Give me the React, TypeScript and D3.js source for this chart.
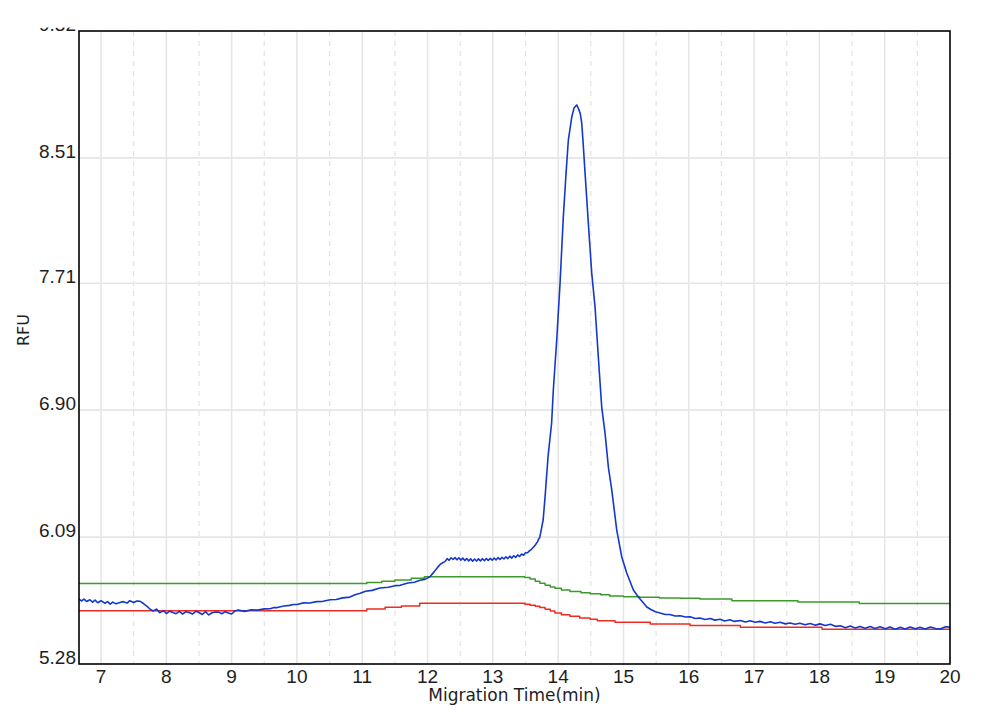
import React from "react";
import * as d3 from "d3";

// ---- data ----
const xTicks = [7, 8, 9, 10, 11, 12, 13, 14, 15, 16, 17, 18, 19, 20];
const xHalfTicks = [7.5, 8.5, 9.5, 10.5, 11.5, 12.5, 13.5, 14.5, 15.5, 16.5, 17.5, 18.5, 19.5];
const yTicks = [5.28, 6.09, 6.9, 7.71, 8.51, 9.32];
const yTickLabels = ["5.28", "6.09", "6.90", "7.71", "8.51", "9.32"];

const blueT = [
  6.663, 6.70, 6.74, 6.78, 6.83, 6.87, 6.91, 6.95, 7.00, 7.06, 7.10, 7.14, 7.18, 7.23, 7.29, 7.34, 7.40, 7.44, 7.50, 7.55,
  7.60, 7.65, 7.70, 7.75, 7.80, 7.85, 7.90, 7.96, 8.00, 8.05, 8.10, 8.15, 8.20, 8.25, 8.30, 8.35, 8.40, 8.45, 8.50, 8.55,
  8.60, 8.65, 8.70, 8.75, 8.80, 8.85, 8.90, 8.95, 9.00, 9.05, 9.10, 9.20, 9.30, 9.40, 9.50, 9.59, 9.65, 9.70, 9.80, 9.89,
  9.95, 10.00, 10.10, 10.20, 10.30, 10.40, 10.51, 10.60, 10.70, 10.81, 10.90, 10.97, 11.05, 11.15, 11.27, 11.40, 11.50, 11.58, 11.70, 11.80,
  11.885, 11.96, 12.04, 12.10, 12.15, 12.20, 12.27, 12.30, 12.33, 12.36, 12.39, 12.42, 12.45, 12.48, 12.51, 12.54, 12.57, 12.60, 12.63, 12.66,
  12.69, 12.72, 12.75, 12.78, 12.81, 12.84, 12.87, 12.90, 12.93, 12.96, 12.99, 13.02, 13.05, 13.08, 13.11, 13.14, 13.17, 13.20, 13.23, 13.26,
  13.29, 13.32, 13.35, 13.38, 13.41, 13.44, 13.47, 13.50, 13.53, 13.56, 13.59, 13.62, 13.65, 13.68, 13.70, 13.72, 13.74, 13.77, 13.80, 13.845,
  13.90, 13.926, 13.978, 14.029, 14.079, 14.121, 14.156, 14.208, 14.243, 14.27, 14.285, 14.30, 14.32, 14.34, 14.361, 14.38, 14.412, 14.462, 14.514, 14.565,
  14.615, 14.667, 14.718, 14.769, 14.821, 14.897, 14.974, 15.05, 15.152, 15.228, 15.30, 15.357, 15.42, 15.49, 15.56, 15.64, 15.71, 15.79, 15.87, 15.95,
  16.02, 16.10, 16.17, 16.25, 16.33, 16.40, 16.48, 16.55, 16.63, 16.70, 16.79, 16.87, 16.94, 17.02, 17.09, 17.17, 17.25, 17.32, 17.40, 17.48,
  17.55, 17.63, 17.70, 17.78, 17.86, 17.94, 18.01, 18.09, 18.17, 18.25, 18.32, 18.40, 18.47, 18.55, 18.62, 18.70, 18.78, 18.85, 18.93, 19.01,
  19.08, 19.16, 19.24, 19.31, 19.39, 19.47, 19.54, 19.62, 19.70, 19.78, 19.85, 19.93, 20.0,
];
const blueV = [
  5.695, 5.682, 5.694, 5.679, 5.690, 5.675, 5.688, 5.671, 5.684, 5.668, 5.678, 5.662, 5.675, 5.664, 5.672, 5.678, 5.669, 5.684, 5.672, 5.682,
  5.680, 5.666, 5.650, 5.630, 5.618, 5.630, 5.608, 5.620, 5.602, 5.617, 5.609, 5.601, 5.616, 5.599, 5.614, 5.609, 5.599, 5.616, 5.609, 5.596,
  5.614, 5.593, 5.607, 5.612, 5.611, 5.601, 5.614, 5.605, 5.599, 5.618, 5.624, 5.616, 5.626, 5.624, 5.632, 5.633, 5.640, 5.640, 5.650, 5.654,
  5.660, 5.660, 5.670, 5.669, 5.678, 5.680, 5.690, 5.692, 5.702, 5.707, 5.724, 5.731, 5.744, 5.750, 5.765, 5.770, 5.780, 5.782, 5.797, 5.802,
  5.814, 5.820, 5.838, 5.868, 5.895, 5.918, 5.935, 5.952, 5.942, 5.958, 5.947, 5.959, 5.945, 5.958, 5.943, 5.956, 5.940, 5.953, 5.938, 5.951,
  5.936, 5.950, 5.937, 5.951, 5.938, 5.952, 5.940, 5.953, 5.941, 5.954, 5.942, 5.956, 5.944, 5.959, 5.947, 5.961, 5.950, 5.964, 5.953, 5.968,
  5.956, 5.971, 5.960, 5.976, 5.966, 5.982, 5.974, 5.990, 5.990, 6.002, 6.012, 6.025, 6.040, 6.058, 6.075, 6.092, 6.135, 6.199, 6.348, 6.603,
  6.818, 7.029, 7.348, 7.711, 8.133, 8.413, 8.624, 8.771, 8.828, 8.842, 8.848, 8.835, 8.815, 8.790, 8.732, 8.620, 8.413, 8.094, 7.775, 7.558,
  7.239, 6.920, 6.754, 6.537, 6.390, 6.135, 5.963, 5.861, 5.752, 5.708, 5.672, 5.644, 5.628, 5.614, 5.605, 5.596, 5.596, 5.586, 5.588, 5.580,
  5.582, 5.570, 5.574, 5.564, 5.570, 5.560, 5.566, 5.554, 5.562, 5.552, 5.558, 5.548, 5.556, 5.546, 5.552, 5.542, 5.550, 5.540, 5.546, 5.536,
  5.542, 5.534, 5.540, 5.530, 5.538, 5.528, 5.536, 5.526, 5.534, 5.520, 5.524, 5.512, 5.522, 5.510, 5.520, 5.508, 5.519, 5.507, 5.518, 5.505,
  5.516, 5.502, 5.514, 5.504, 5.516, 5.505, 5.515, 5.504, 5.516, 5.507, 5.504, 5.518, 5.515,
];

const greenT = [6.663, 11.07, 11.30, 11.50, 11.75, 11.95, 13.49, 13.57, 13.65, 13.72, 13.80, 13.88, 13.95, 14.05, 14.18, 14.35, 14.49, 14.65, 14.79, 15.00, 15.25, 15.55, 15.87, 16.17, 16.66, 17.67, 18.61, 20.0];
const greenV = [5.794, 5.800, 5.808, 5.816, 5.827, 5.837, 5.832, 5.822, 5.808, 5.795, 5.783, 5.772, 5.763, 5.752, 5.742, 5.735, 5.729, 5.722, 5.714, 5.710, 5.706, 5.702, 5.699, 5.695, 5.684, 5.675, 5.666, 5.666];

const redT = [6.663, 11.07, 11.35, 11.60, 11.88, 13.49, 13.57, 13.65, 13.72, 13.80, 13.88, 13.95, 14.05, 14.18, 14.33, 14.49, 14.60, 14.87, 15.41, 16.02, 16.79, 18.04, 20.0];
const redV = [5.620, 5.631, 5.642, 5.650, 5.667, 5.662, 5.655, 5.648, 5.640, 5.630, 5.618, 5.605, 5.595, 5.584, 5.574, 5.566, 5.556, 5.546, 5.536, 5.526, 5.514, 5.502, 5.502];

// ---- layout ----
const W = 1008;
const H = 722;
const L = 79, R = 950, T = 31, B = 664;

export default function App() {
  const x = d3.scaleLinear().domain([6.663, 20]).range([L, R]);
  const y = d3.scaleLinear().domain([5.28, 9.32]).range([B, T]);

  const lineLin = d3.line<[number, number]>().x((d) => x(d[0])).y((d) => y(d[1]));
  const lineStep = d3.line<[number, number]>().x((d) => x(d[0])).y((d) => y(d[1])).curve(d3.curveStepAfter);

  const blue = blueT.map((t, i) => [t, blueV[i]] as [number, number]);
  const green = greenT.map((t, i) => [t, greenV[i]] as [number, number]);
  const red = redT.map((t, i) => [t, redV[i]] as [number, number]);

  const tickFont = "'Liberation Sans', Arial, sans-serif";
  const titleFont = "'DejaVu Sans', Verdana, sans-serif";

  return (
    <svg
      width={W}
      height={H}
      style={{ position: "absolute", left: 0, top: 0, background: "#fff" }}
    >
      <defs>
        <clipPath id="plotClip">
          <rect x={L} y={T} width={R - L} height={B - T} />
        </clipPath>
        <clipPath id="ylabClip">
          <rect x={0} y={27.5} width={L} height={H} />
        </clipPath>
      </defs>
      <rect x={0} y={0} width={W} height={H} fill="#fff" />

      {/* grid */}
      <g>
        {xHalfTicks.map((t) => (
          <line key={"h" + t} x1={x(t)} x2={x(t)} y1={T} y2={B} stroke="#e3e3e3" strokeWidth={1.2} strokeDasharray="5,5" />
        ))}
        {xTicks.filter((t) => t < 20).map((t) => (
          <line key={"v" + t} x1={x(t)} x2={x(t)} y1={T} y2={B} stroke="#e6e6e6" strokeWidth={1.6} />
        ))}
        {yTicks.slice(1, -1).map((v) => (
          <line key={"y" + v} x1={L} x2={R} y1={y(v)} y2={y(v)} stroke="#e6e6e6" strokeWidth={1.6} />
        ))}
      </g>

      {/* series */}
      <g clipPath="url(#plotClip)" fill="none" strokeLinejoin="round">
        <path d={lineStep(green) || ""} stroke="#3c9a2c" strokeWidth={1.5} />
        <path d={lineStep(red) || ""} stroke="#ee2b22" strokeWidth={1.5} />
        <path d={lineLin(blue) || ""} stroke="#1538cc" strokeWidth={1.6} />
      </g>

      {/* frame */}
      <rect x={L} y={T} width={R - L} height={B - T} fill="none" stroke="#000" strokeWidth={1.6} />

      {/* y tick labels */}
      <g clipPath="url(#ylabClip)" fontFamily={tickFont} fontSize={19} fill="#1e1e1e">
        {yTicks.map((v, i) => (
          <text key={"yl" + v} x={L - 3} y={y(v)} textAnchor="end">
            {yTickLabels[i]}
          </text>
        ))}
      </g>

      {/* x tick labels */}
      <g fontFamily={tickFont} fontSize={19} fill="#1e1e1e">
        {xTicks.map((t) => (
          <text key={"xl" + t} x={x(t)} y={B + 19} textAnchor="middle">
            {t}
          </text>
        ))}
      </g>

      {/* axis titles */}
      <text x={(L + R) / 2} y={701} textAnchor="middle" fontFamily={titleFont} fontSize={17} fill="#1e1e1e">
        Migration Time(min)
      </text>
      <text
        transform={`translate(29, 330) rotate(-90)`}
        textAnchor="middle"
        fontFamily={titleFont}
        fontSize={16}
        fill="#1e1e1e"
      >
        RFU
      </text>
    </svg>
  );
}
